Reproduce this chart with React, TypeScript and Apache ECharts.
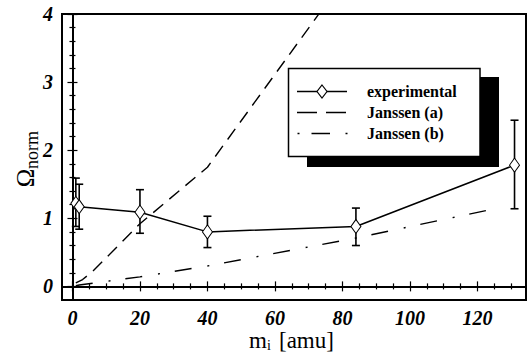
import React, { useEffect, useRef } from "react";
import * as echarts from "echarts";

// ---- data ----
const expX = [1, 2, 20, 40, 84, 131];
const expY = [1.22, 1.17, 1.09, 0.8, 0.88, 1.78];
const expLow = [0.88, 0.84, 0.78, 0.57, 0.6, 1.14];
const expHigh = [1.59, 1.5, 1.42, 1.03, 1.15, 2.44];

const janAX = [1, 3, 6, 20, 40, 84];
const janAY = [0.05, 0.1, 0.22, 0.92, 1.75, 4.75];

const janBX = [1, 2, 20, 40, 84, 127];
const janBY = [0.01, 0.02, 0.14, 0.3, 0.71, 1.16];

const xMajor = [0, 20, 40, 60, 80, 100, 120];
const xMinor = [5, 10, 15, 25, 30, 35, 45, 50, 55, 65, 70, 75, 85, 90, 95, 105, 110, 115, 125, 130];
const yMajor = [0, 1, 2, 3, 4];
const yMinor = [0.2, 0.4, 0.6, 0.8, 1.2, 1.4, 1.6, 1.8, 2.2, 2.4, 2.6, 2.8, 3.2, 3.4, 3.6, 3.8];

const legendLabels = ["experimental", "Janssen (a)", "Janssen (b)"];

const X_MIN = -3.1;
const X_MAX = 134.4;
const Y_MIN = -0.2;
const Y_MAX = 4;

const FONT = "Liberation Serif";
const ITALIC_FONT = "'Liberation Serif', 'DejaVu Serif', serif";

const tickLabelStyle = {
  color: "#000",
  fontFamily: ITALIC_FONT,
  fontStyle: "italic",
  fontWeight: "bold",
  fontSize: 20,
};

function xAxisDef(pos: "bottom" | "top", values: number[], len: number, labels: boolean) {
  return {
    type: "value",
    position: pos,
    min: X_MIN,
    max: X_MAX,
    axisLine: { show: false },
    splitLine: { show: false },
    axisTick: { show: true, inside: true, length: len, customValues: values, lineStyle: { color: "#000", width: 1.2 } },
    axisLabel: { show: labels, customValues: values, margin: 8, ...tickLabelStyle },
  };
}

function yAxisDef(pos: "left" | "right", values: number[], len: number, labels: boolean) {
  return {
    type: "value",
    position: pos,
    min: Y_MIN,
    max: Y_MAX,
    axisLine: { show: false },
    splitLine: { show: false },
    axisTick: { show: true, inside: true, length: len, customValues: values, lineStyle: { color: "#000", width: 1.2 } },
    axisLabel: { show: labels, customValues: values, margin: 9, ...tickLabelStyle },
  };
}

export default function App() {
  const ref = useRef<HTMLDivElement>(null);

  useEffect(() => {
    if (!ref.current) return;
    const chart = echarts.init(ref.current, undefined, { renderer: "svg" });

    const pair = (xs: number[], ys: number[]) => xs.map((x, i) => [x, ys[i]]);
    const errData = expX.map((x, i) => [x, expLow[i], expHigh[i]]);

    const lgX0 = 297;
    const lgX1 = 347;
    const rows = [91.5, 112.5, 133.5];

    const option: any = {
      animation: false,
      backgroundColor: "#fff",
      grid: {
        left: 62,
        top: 14,
        right: 5,
        bottom: 58,
        show: true,
        borderColor: "#000",
        borderWidth: 2,
        backgroundColor: "transparent",
      },
      xAxis: [
        xAxisDef("bottom", xMajor, 5, true),
        xAxisDef("bottom", xMinor, 3, false),
        xAxisDef("top", xMajor, 5, false),
        xAxisDef("top", xMinor, 3, false),
      ],
      yAxis: [
        yAxisDef("left", yMajor, 5, true),
        yAxisDef("left", yMinor, 3, false),
        yAxisDef("right", yMajor, 5, false),
        yAxisDef("right", yMinor, 3, false),
      ],
      series: [
        {
          type: "line",
          name: "zero",
          data: [],
          silent: true,
          markLine: {
            silent: true,
            symbol: "none",
            label: { show: false },
            lineStyle: { color: "#000", width: 2, type: "solid" },
            data: [{ xAxis: 0 }, { yAxis: 0 }],
          },
        },
        {
          type: "line",
          name: legendLabels[1],
          data: pair(janAX, janAY),
          showSymbol: false,
          symbol: "none",
          clip: true,
          lineStyle: { color: "#000", width: 1.4, type: [13, 8] },
          z: 3,
        },
        {
          type: "line",
          name: legendLabels[2],
          data: pair(janBX, janBY),
          showSymbol: false,
          symbol: "none",
          clip: true,
          lineStyle: { color: "#000", width: 1.4, type: [17, 16, 2, 15] },
          z: 3,
        },
        {
          type: "custom",
          name: "errors",
          data: errData,
          encode: { x: 0, y: [1, 2] },
          z: 4,
          renderItem: (params: any, api: any) => {
            const x = api.value(0);
            const lo = api.coord([x, api.value(1)]);
            const hi = api.coord([x, api.value(2)]);
            const w = 4;
            const st = { stroke: "#000", lineWidth: 1.6 };
            return {
              type: "group",
              children: [
                { type: "line", shape: { x1: lo[0], y1: lo[1], x2: hi[0], y2: hi[1] }, style: st },
                { type: "line", shape: { x1: lo[0] - w, y1: lo[1], x2: lo[0] + w, y2: lo[1] }, style: st },
                { type: "line", shape: { x1: hi[0] - w, y1: hi[1], x2: hi[0] + w, y2: hi[1] }, style: st },
              ],
            };
          },
        },
        {
          type: "line",
          name: legendLabels[0],
          data: pair(expX, expY),
          symbol: "diamond",
          symbolSize: [10, 14],
          showAllSymbol: true,
          itemStyle: { color: "#fff", borderColor: "#000", borderWidth: 1 },
          lineStyle: { color: "#000", width: 1.5 },
          z: 5,
        },
      ],
      graphic: [
        // y axis title
        {
          type: "text",
          x: 25,
          y: 178,
          rotation: Math.PI / 2,
          z: 100,
          style: { text: "Ω", fontFamily: FONT, fontSize: 25, fill: "#000", align: "center", verticalAlign: "middle" },
        },
        {
          type: "text",
          x: 31.5,
          y: 150,
          rotation: Math.PI / 2,
          z: 100,
          style: { text: "norm", fontFamily: FONT, fontSize: 18, fill: "#000", align: "center", verticalAlign: "middle" },
        },
        // x axis title
        {
          type: "text",
          x: 249,
          y: 340,
          z: 100,
          style: { text: "m", fontFamily: FONT, fontSize: 23, fill: "#000", align: "left", verticalAlign: "middle" },
        },
        {
          type: "text",
          x: 267,
          y: 345,
          z: 100,
          style: { text: "i", fontFamily: FONT, fontSize: 14, fill: "#000", align: "left", verticalAlign: "middle" },
        },
        {
          type: "text",
          x: 279,
          y: 340,
          z: 100,
          style: { text: "[amu]", fontFamily: FONT, fontSize: 23, fill: "#000", align: "left", verticalAlign: "middle" },
        },
        // legend
        {
          type: "rect",
          z: 100,
          shape: { x: 307, y: 77, width: 192, height: 90 },
          style: { fill: "#000" },
        },
        {
          type: "rect",
          z: 101,
          shape: { x: 288.5, y: 68.5, width: 191.5, height: 88 },
          style: { fill: "#fff", stroke: "#000", lineWidth: 1.5 },
        },
        {
          type: "line",
          z: 102,
          shape: { x1: lgX0, y1: rows[0], x2: lgX1, y2: rows[0] },
          style: { stroke: "#000", lineWidth: 1.5 },
        },
        {
          type: "polygon",
          z: 103,
          shape: {
            points: [
              [322, rows[0] - 6.5],
              [327, rows[0]],
              [322, rows[0] + 6.5],
              [317, rows[0]],
            ],
          },
          style: { fill: "#fff", stroke: "#000", lineWidth: 1.2 },
        },
        {
          type: "line",
          z: 102,
          shape: { x1: lgX0, y1: rows[1], x2: lgX1 - 1, y2: rows[1] },
          style: { stroke: "#000", lineWidth: 1.5, lineDash: [20, 9] },
        },
        {
          type: "line",
          z: 102,
          shape: { x1: 297.5, y1: rows[2], x2: 299.5, y2: rows[2] },
          style: { stroke: "#000", lineWidth: 1.5 },
        },
        {
          type: "line",
          z: 102,
          shape: { x1: 311.5, y1: rows[2], x2: 330, y2: rows[2] },
          style: { stroke: "#000", lineWidth: 1.5 },
        },
        {
          type: "line",
          z: 102,
          shape: { x1: 345.5, y1: rows[2], x2: 347.5, y2: rows[2] },
          style: { stroke: "#000", lineWidth: 1.5 },
        },
        ...legendLabels.map((t, i) => ({
          type: "text",
          x: 367,
          y: rows[i],
          z: 103,
          style: {
            text: t,
            fontFamily: FONT,
            fontWeight: "bold",
            fontSize: 16,
            fill: "#000",
            align: "left",
            verticalAlign: "middle",
          },
        })),
      ],
    };

    chart.setOption(option);
    return () => chart.dispose();
  }, []);

  return (
    <div
      ref={ref}
      style={{ position: "fixed", left: 0, top: 0, width: 531, height: 358, background: "#fff" }}
    />
  );
}
